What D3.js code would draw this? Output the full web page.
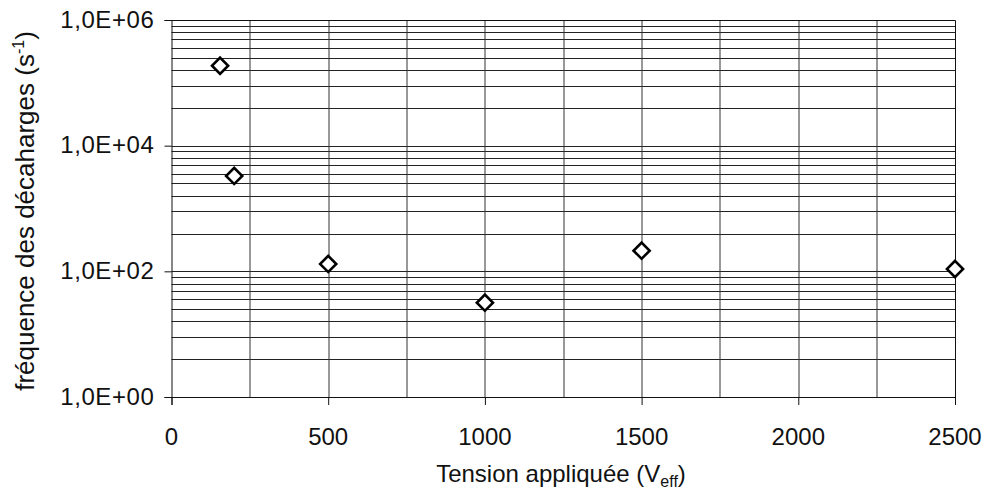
<!DOCTYPE html>
<html>
<head>
<meta charset="utf-8">
<script src="https://cdn.jsdelivr.net/npm/d3@7"></script>
<style>
    body { margin: 0; background: #fff; }
    text { font-family: "Liberation Sans", Arial, sans-serif; fill: #111; }
</style>
</head>
<body>
<div id="chart"></div>
<script>
// data
const tension = [155, 200, 500, 1000, 1500, 2500];
const frequence = [1.87e5, 3300, 131, 31.7, 213, 109];

// axis ticks
const xTicks = [0, 500, 1000, 1500, 2000, 2500];
const xGrid = [250, 500, 750, 1000, 1250, 1500, 1750, 2000, 2250];
const yTicks = [1, 1e2, 1e4, 1e6];
const yTickLabels = ["1,0E+00", "1,0E+02", "1,0E+04", "1,0E+06"];
// log base 100 : minor lines at k^2 inside each block
const yMinorSteps = [4, 9, 16, 25, 36, 49, 64, 81];

const W = 985, H = 501;
const margin = {top: 20, right: 30, bottom: 104, left: 171.5};
const width = W - margin.left - margin.right;
const height = H - margin.top - margin.bottom;

const svg = d3.select("#chart").append("svg")
    .attr("width", W)
    .attr("height", H);

const g = svg.append("g")
    .attr("transform", `translate(${margin.left}, ${margin.top})`);

const x = d3.scaleLinear().domain([0, 2500]).range([0, width]);
const y = d3.scaleLog().domain([1, 1e6]).range([height, 0]);

// horizontal grid
let yGrid = [];
yTicks.forEach(t => {
    yGrid.push(t);
    if (t < 1e6) yMinorSteps.forEach(k => yGrid.push(t * k));
});

g.selectAll(".hgrid")
    .data(yGrid)
    .enter().append("line")
    .attr("class", "hgrid")
    .attr("x1", 0)
    .attr("x2", width)
    .attr("y1", d => Math.round(y(d)) + 0.5)
    .attr("y2", d => Math.round(y(d)) + 0.5)
    .attr("stroke", "#222")
    .attr("stroke-width", 1);

// vertical grid
g.selectAll(".vgrid")
    .data(xGrid)
    .enter().append("line")
    .attr("class", "vgrid")
    .attr("x1", d => Math.round(x(d)) + 0.5)
    .attr("x2", d => Math.round(x(d)) + 0.5)
    .attr("y1", 0)
    .attr("y2", height)
    .attr("stroke", "#333")
    .attr("stroke-width", 1);

// plot border (top / right)
g.append("path")
    .attr("d", `M0,0.5H${width + 0.5}V${height}`)
    .attr("fill", "none")
    .attr("stroke", "#111");

// axes (ticks only, labels drawn below)
const xAxis = g.append("g")
    .attr("transform", `translate(0, ${height})`)
    .call(d3.axisBottom(x).tickValues(xTicks).tickSize(8).tickFormat(""));

const yAxis = g.append("g")
    .call(d3.axisLeft(y).tickValues(yTicks).tickSize(7).tickFormat(""));

[xAxis, yAxis].forEach(a => {
    a.select(".domain").attr("stroke", "#111");
    a.selectAll(".tick line").attr("stroke", "#111");
});

// tick labels
g.selectAll(".xlab")
    .data(xTicks)
    .enter().append("text")
    .attr("class", "xlab")
    .attr("x", d => x(d))
    .attr("y", height + 48)
    .attr("text-anchor", "middle")
    .style("font-size", "24px")
    .text(d => d);

g.selectAll(".ylab")
    .data(yTicks)
    .enter().append("text")
    .attr("class", "ylab")
    .attr("x", -17)
    .attr("y", d => y(d) + 7.5)
    .attr("text-anchor", "end")
    .style("font-size", "24px")
    .style("letter-spacing", "0.6px")
    .text((d, i) => yTickLabels[i]);

// markers
g.selectAll(".pt")
    .data(tension.map((t, i) => ({t: t, f: frequence[i]})))
    .enter().append("path")
    .attr("class", "pt")
    .attr("d", d3.symbol().type(d3.symbolSquare).size(130))
    .attr("transform", d => `translate(${x(d.t)}, ${y(d.f)}) rotate(45)`)
    .attr("fill", "#fff")
    .attr("stroke", "#000")
    .attr("stroke-width", 2.6);

// axis titles
const xt = svg.append("text")
    .attr("x", 561)
    .attr("y", 482)
    .attr("text-anchor", "middle")
    .style("font-size", "24px");
xt.append("tspan").text("Tension appliquée (V");
xt.append("tspan").attr("dy", 5).style("font-size", "16px").text("eff");
xt.append("tspan").attr("dy", -5).text(")");

const yt = svg.append("text")
    .attr("transform", `translate(34, 211) rotate(-90)`)
    .attr("text-anchor", "middle")
    .style("font-size", "26px");
yt.append("tspan").text("fréquence des décaharges (s");
yt.append("tspan").attr("dy", -10).style("font-size", "16px").text("-1");
yt.append("tspan").attr("dy", 10).text(")");
</script>
</body>
</html>
